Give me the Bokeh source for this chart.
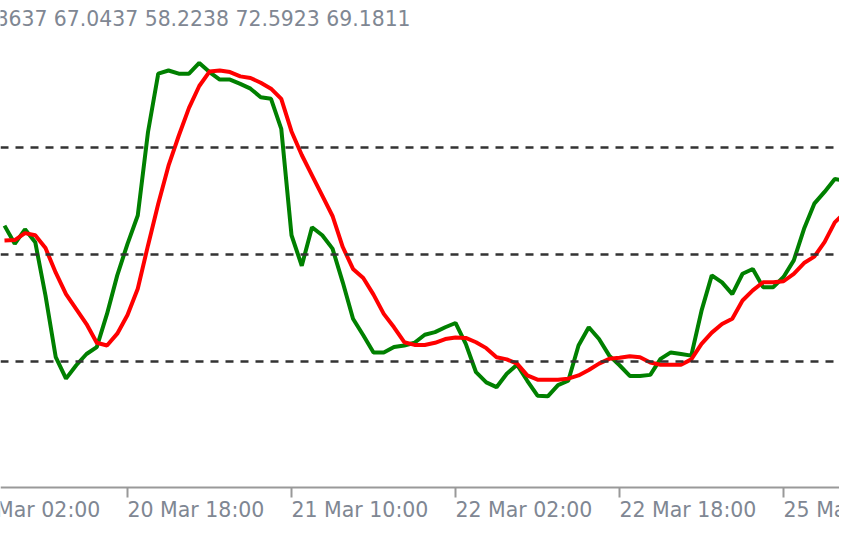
from bokeh.plotting import figure
from bokeh.models import Span, Label, FixedTicker, Range1d
from bokeh.embed import file_html
from bokeh.resources import INLINE

# bar index (hourly bars), 0 = 20 Mar 18:00
bars = list(range(-12, 72))

main_line = [55.4, 52.0, 54.7, 52.3, 42.3, 30.8, 26.8, 29.3, 31.4, 32.7, 38.9, 46.1,
             52.0, 57.3, 72.9, 83.8, 84.4, 83.8, 83.8, 85.8, 84.1, 82.7, 82.7, 81.9,
             81.0, 79.4, 79.1, 73.5, 53.6, 47.9, 55.1, 53.6, 51.1, 44.8, 38.0, 34.9,
             31.7, 31.7, 32.7, 33.0, 33.5, 35.0, 35.5, 36.4, 37.2, 33.3, 28.0, 26.1,
             25.2, 27.7, 29.4, 26.4, 23.6, 23.5, 25.6, 26.4, 33.0, 36.4, 34.2, 31.1,
             29.3, 27.3, 27.3, 27.5, 30.5, 31.7, 31.4, 31.1, 39.5, 46.1, 44.8, 42.6,
             46.4, 47.3, 43.9, 43.9, 45.8, 48.9, 54.8, 59.5, 61.7, 64.1, 63.8, 62.6]

signal_line = [52.6, 52.7, 54.0, 53.6, 51.2, 46.6, 42.6, 39.8, 37.0, 33.5, 33.0, 35.2,
               38.7, 43.6, 51.7, 59.5, 66.6, 72.2, 77.4, 81.5, 84.2, 84.4, 84.1, 83.3,
               83.0, 82.1, 81.0, 79.1, 73.0, 68.6, 64.8, 61.0, 57.2, 51.4, 47.3, 45.6,
               42.5, 38.9, 36.4, 33.6, 33.1, 33.1, 33.5, 34.2, 34.5, 34.4, 33.6, 32.5,
               30.8, 30.4, 29.6, 27.4, 26.6, 26.6, 26.6, 26.8, 27.4, 28.4, 29.6, 30.5,
               30.7, 31.0, 30.8, 29.8, 29.4, 29.4, 29.4, 30.4, 33.3, 35.4, 37.0, 38.0,
               41.4, 43.3, 44.8, 44.8, 45.0, 46.4, 48.4, 49.6, 52.3, 56.0, 57.9, 60.4]

levels = [70, 50, 30]

tick_pos = [-16, 0, 16, 32, 48, 64]
tick_labels = ["20 Mar 02:00", "20 Mar 18:00", "21 Mar 10:00", "22 Mar 02:00",
               "22 Mar 18:00", "25 Mar 10:00"]

header_text = "8637 67.0437 58.2238 72.5923 69.1811"

# layout constants
AXIS_AT = 6.45        # value where the time axis line sits
LABEL_MID = 2.15      # value at the middle of the time labels
HEADER_X, HEADER_Y = -12.88, 94.0

FONT = "DejaVu Sans"
TXT = "#7f8793"
X0, X1 = -12.39, 69.46

p = figure(width=839, height=518, output_backend="svg", toolbar_location=None,
           x_range=Range1d(X0, X1), y_range=Range1d(0.654, 97.48),
           y_axis_location=None, min_border_left=0, min_border_right=0,
           min_border_top=0, min_border_bottom=0)
p.outline_line_color = None
p.xgrid.visible = False
p.ygrid.visible = False
p.background_fill_color = "white"

for lv in levels:
    p.add_layout(Span(location=lv, dimension="width", line_color="#333333",
                      line_width=2.5, line_dash="8 7"))

p.line(bars, main_line, line_color="#008000", line_width=4)
p.line(bars, signal_line, line_color="#ff0000", line_width=4)

# labels whose text fits inside the window go on the axis; the ones that run
# off an edge are drawn as clipped labels at the same place
inner = [(t, l) for t, l in zip(tick_pos, tick_labels) if X0 <= t and t + 13.5 <= X1]
edge = [(t, l) for t, l in zip(tick_pos, tick_labels) if not (X0 <= t and t + 13.5 <= X1)]

ax = p.xaxis[0]
ax.fixed_location = AXIS_AT
ax.ticker = FixedTicker(ticks=tick_pos)
ax.major_label_overrides = {t: (l if (t, l) in inner else "") for t, l in zip(tick_pos, tick_labels)}
ax.major_label_orientation = -1e-9
ax.major_label_text_font = FONT
ax.major_label_text_font_size = "20.5px"
ax.major_label_text_color = TXT
ax.major_label_standoff = 13
ax.major_tick_in = 0
ax.major_tick_out = 10
ax.minor_tick_out = 0
ax.minor_tick_in = 0
ax.axis_line_color = "#999999"
ax.axis_line_width = 2
ax.major_tick_line_color = "#999999"
ax.major_tick_line_width = 2

for t, l in edge:
    p.add_layout(Label(x=t, y=LABEL_MID, text=l, text_align="left",
                       text_baseline="middle", text_font=FONT, text_font_size="20.5px",
                       text_color=TXT))

p.add_layout(Label(x=HEADER_X, y=HEADER_Y, text=header_text, text_align="left",
                   text_baseline="middle", text_font=FONT, text_font_size="20.4px",
                   text_color=TXT))

open("out.html", "w").write(file_html(p, INLINE))
